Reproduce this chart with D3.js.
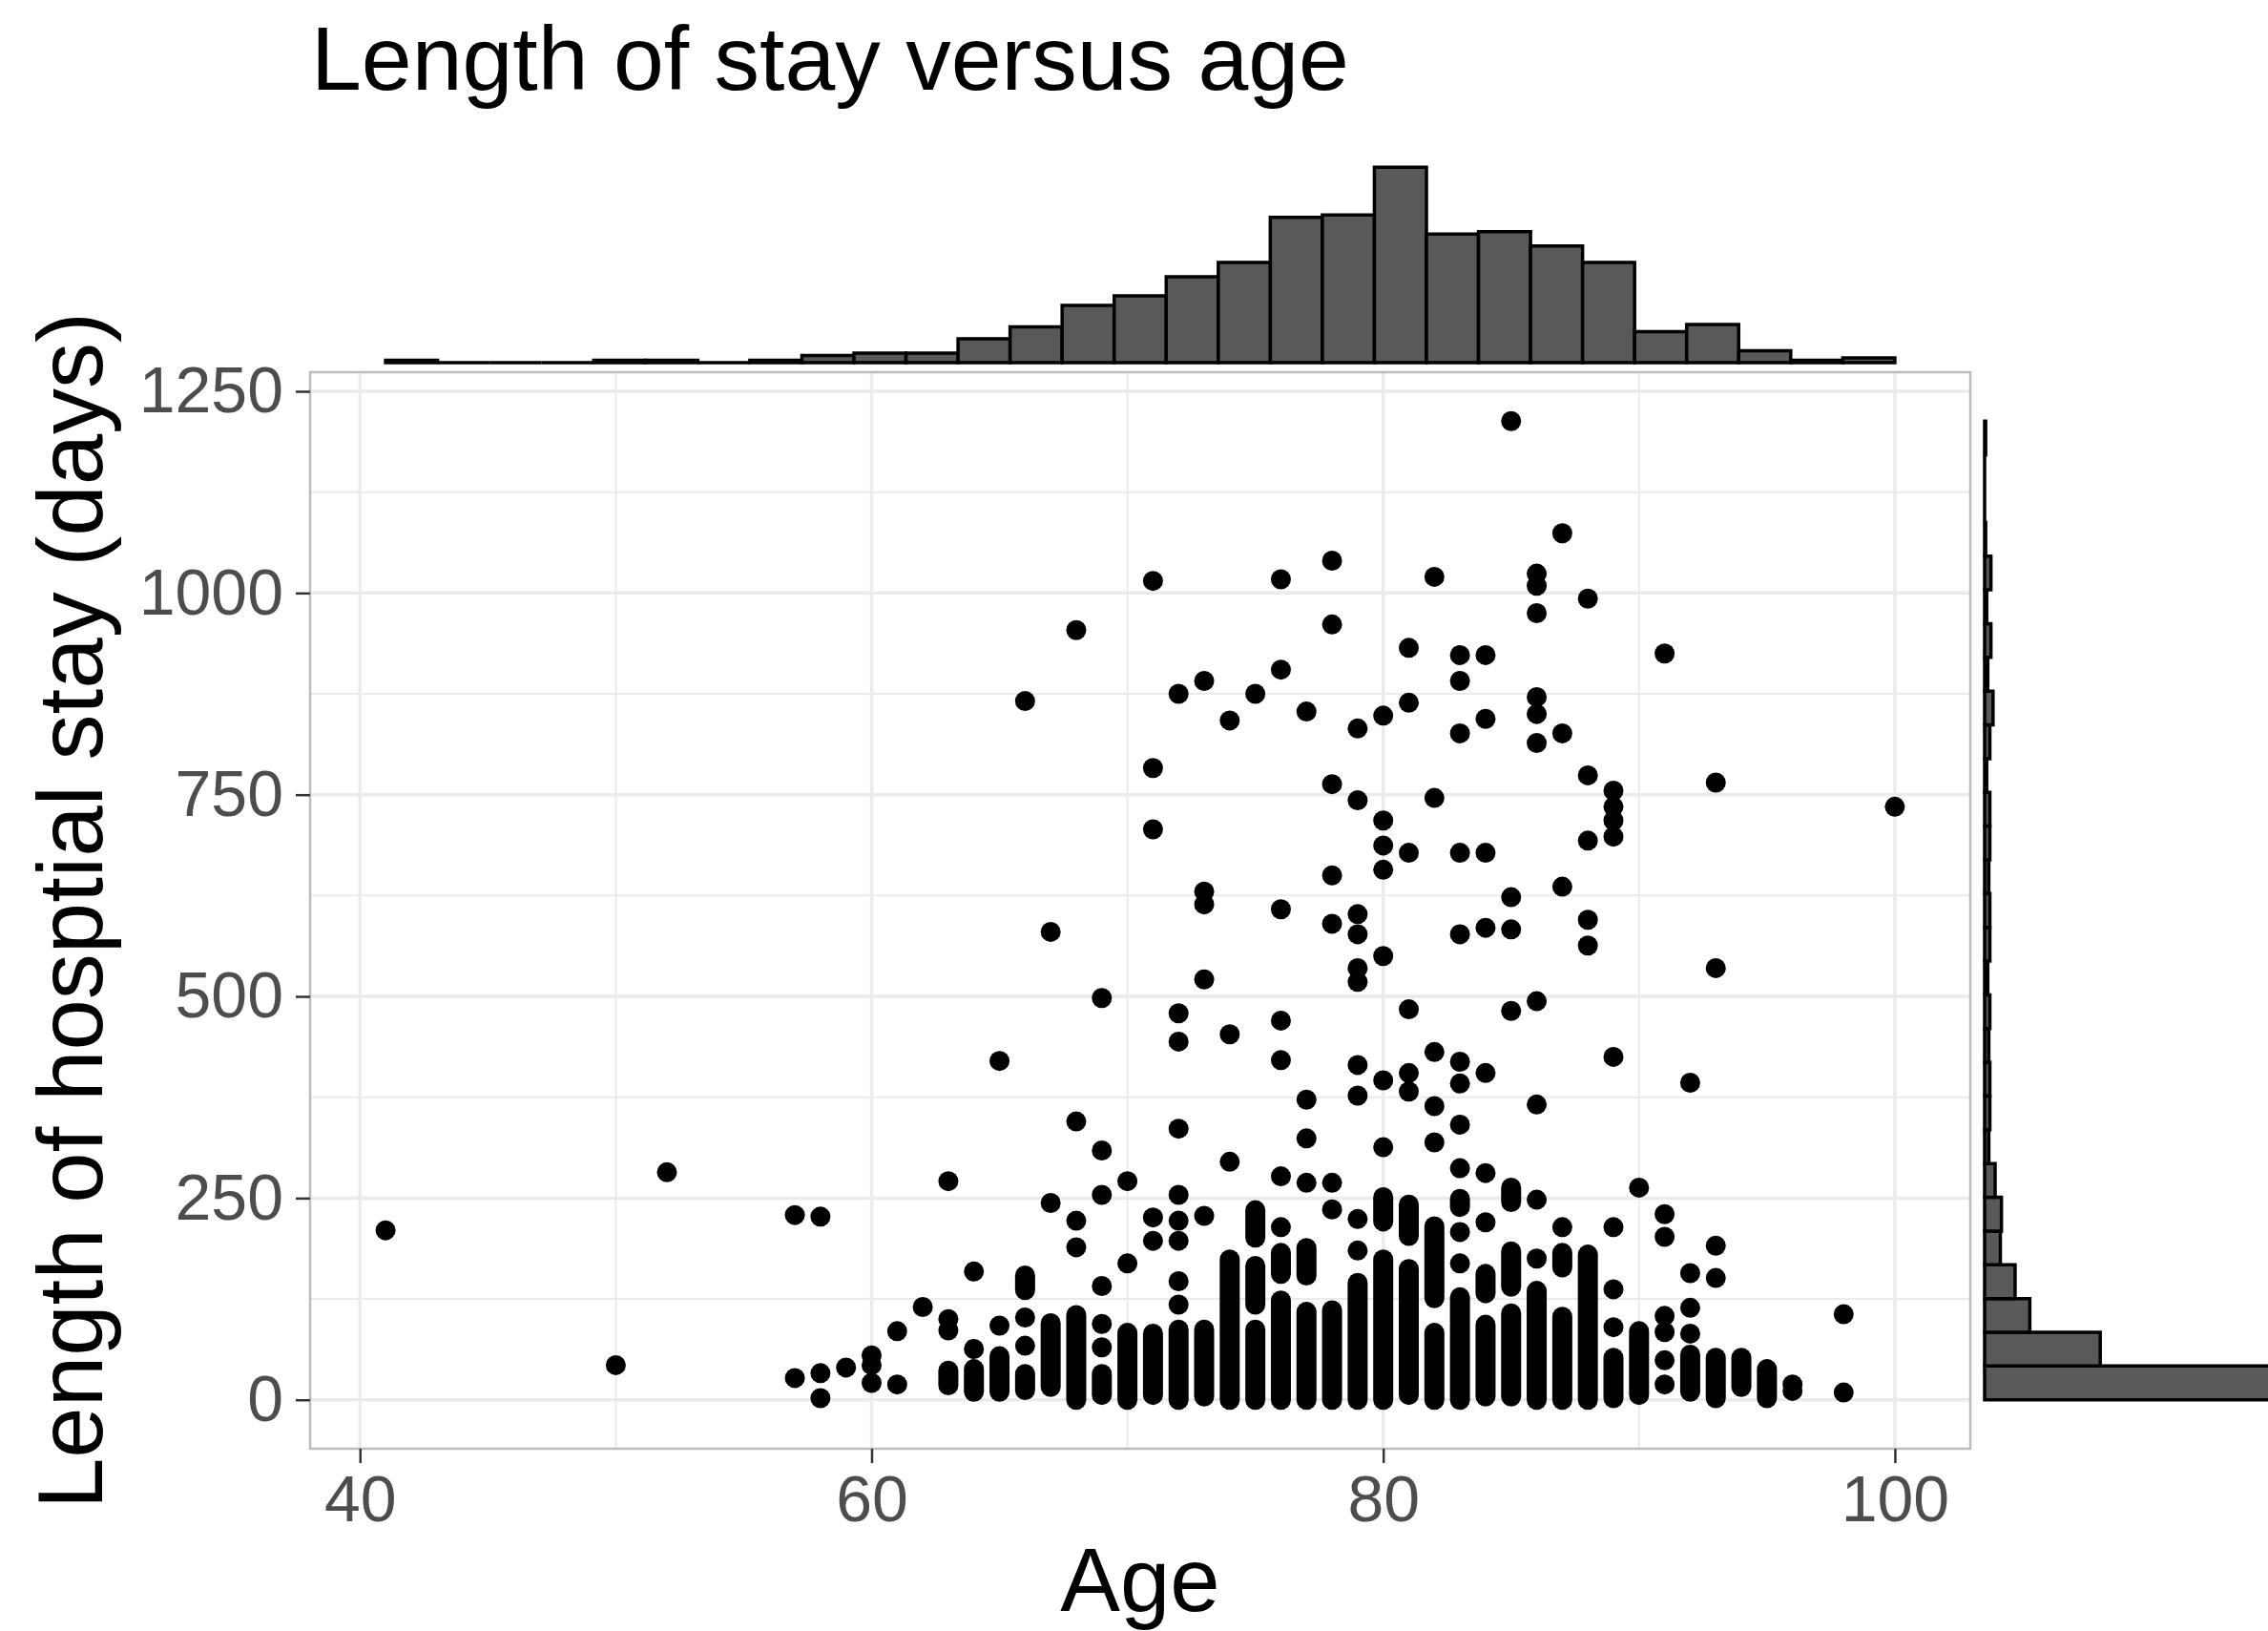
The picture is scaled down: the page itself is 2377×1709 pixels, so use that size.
<!DOCTYPE html>
<html>
<head>
<meta charset="utf-8">
<script src="https://cdn.jsdelivr.net/npm/d3@7"></script>
<style>
  body { margin: 0; background: #fff; }
  svg { display: block; }
</style>
</head>
<body>
<svg id="chart" width="2377" height="1709"></svg>
<script>
const chartTitle = 'Length of stay versus age'
const xTitle = 'Age'
const yTitle = 'Length of hosptial stay (days)'

const xMajor = [40, 60, 80, 100]
const xMinor = [50, 70, 90]
const yMajor = [0, 250, 500, 750, 1000, 1250]
const yMinor = [125, 375, 625, 875, 1125]

// single patients: [age, days]
const points = [
  [41, 210], [50, 43], [52, 282],
  [57, 229], [57, 27], [58, 227], [58, 33], [58, 2], [59, 40],
  [60, 55], [60, 43], [60, 21], [61, 85], [61, 19], [62, 115],
  [63, 271], [63, 100], [63, 86], [64, 159], [64, 63], [65, 420], [65, 92],
  [66, 866], [66, 102], [66, 67], [67, 580], [67, 244],
  [68, 954], [68, 345], [68, 222], [68, 189],
  [69, 498], [69, 309], [69, 254], [69, 141], [69, 94], [69, 65],
  [70, 271], [70, 169],
  [71, 1015], [71, 783], [71, 707], [71, 226], [71, 197],
  [72, 875], [72, 479], [72, 444], [72, 336], [72, 254], [72, 222], [72, 197], [72, 147], [72, 118],
  [73, 891], [73, 630], [73, 614], [73, 521], [73, 228],
  [74, 842], [74, 453], [74, 295], [75, 875],
  [76, 1017], [76, 905], [76, 608], [76, 470], [76, 421], [76, 277], [76, 214],
  [77, 853], [77, 372], [77, 324], [77, 269],
  [78, 1040], [78, 961], [78, 763], [78, 650], [78, 590], [78, 269], [78, 236],
  [79, 832], [79, 743], [79, 602], [79, 577], [79, 535], [79, 518], [79, 415], [79, 377], [79, 224], [79, 185],
  [80, 848], [80, 718], [80, 687], [80, 657], [80, 550], [80, 396], [80, 313],
  [81, 932], [81, 864], [81, 678], [81, 484], [81, 405], [81, 382],
  [82, 1020], [82, 746], [82, 431], [82, 364], [82, 319],
  [83, 923], [83, 891], [83, 826], [83, 678], [83, 577], [83, 419], [83, 392], [83, 341], [83, 287], [83, 208], [83, 169],
  [84, 923], [84, 844], [84, 678], [84, 585], [84, 405], [84, 281], [84, 220],
  [85, 1213], [85, 623], [85, 583], [85, 482],
  [86, 1024], [86, 1009], [86, 975], [86, 871], [86, 850], [86, 814], [86, 494], [86, 366], [86, 248], [86, 175],
  [87, 1074], [87, 826], [87, 636], [87, 214],
  [88, 993], [88, 774], [88, 693], [88, 595], [88, 563],
  [89, 755], [89, 735], [89, 718], [89, 698], [89, 425], [89, 214], [89, 137], [89, 90],
  [90, 263],
  [91, 925], [91, 230], [91, 202], [91, 104], [91, 84], [91, 49], [91, 19],
  [92, 393], [92, 157], [92, 114], [92, 82],
  [93, 765], [93, 535], [93, 191], [93, 151],
  [96, 19], [96, 11], [98, 106], [98, 9], [100, 735]
]

// runs of overlapping patients at one age: [age, from days, to days]
const stacks = [
  [63, 18, 36], [64, 10, 38], [65, 10, 54], [66, 136, 154], [66, 12, 32], [67, 16, 95],
  [68, 0, 105], [69, 6, 32], [70, 0, 83], [71, 6, 82], [72, 0, 87], [73, 4, 87], [74, 0, 174],
  [75, 201, 235], [75, 118, 166], [75, 0, 87], [76, 156, 182], [76, 0, 123],
  [77, 154, 188], [77, 0, 109], [78, 0, 111], [79, 0, 145], [80, 221, 251], [80, 0, 174],
  [81, 203, 242], [81, 6, 162], [82, 126, 215], [82, 0, 83], [83, 239, 249], [83, 0, 127],
  [84, 132, 156], [84, 4, 93], [85, 245, 263], [85, 140, 184], [85, 4, 107], [86, 0, 135],
  [87, 164, 182], [87, 0, 103], [88, 0, 180], [89, 2, 52], [90, 6, 85], [92, 10, 56],
  [93, 2, 52], [94, 16, 52], [95, 2, 38]
]

// marginal histograms, bins run from min to max of each variable
const ageCounts = [1, 0, 0, 0, 1, 1, 0, 1, 3, 4, 4, 10, 15, 24, 28, 36, 42, 61, 62, 82, 54, 55, 49, 42, 13, 16, 5, 1, 2]
const stayCounts = [300, 110, 43, 29, 15, 16, 10, 4, 5, 5, 4, 5, 3, 5, 5, 4, 5, 5, 2, 5, 8, 3, 6, 2, 6, 1, 0, 0, 1]

const font = '"Liberation Sans", Arial, Helvetica, sans-serif'
const panel = { left: 325, right: 2065, top: 390, bottom: 1518 }
const dotR = 10.5

const svg = d3.select('#chart').attr('font-family', font)
svg.append('rect').attr('width', 2377).attr('height', 1709).attr('fill', '#fff')

const ageExt = d3.extent(points.map(d => d[0]).concat(stacks.map(d => d[0])))
const stayExt = d3.extent(points.map(d => d[1]).concat(stacks.map(d => d[1]), stacks.map(d => d[2])))
const expand = ext => {
  const p = (ext[1] - ext[0]) * 0.05
  return [ext[0] - p, ext[1] + p]
}

const x = d3.scaleLinear().domain(expand(ageExt)).range([panel.left, panel.right])
const y = d3.scaleLinear().domain(expand(stayExt)).range([panel.bottom, panel.top])

// grid
const grid = svg.append('g').attr('stroke', '#ebebeb')
const vline = (sel, w) => sel.attr('x1', d => x(d)).attr('x2', d => x(d))
  .attr('y1', panel.top).attr('y2', panel.bottom).attr('stroke-width', w)
const hline = (sel, w) => sel.attr('y1', d => y(d)).attr('y2', d => y(d))
  .attr('x1', panel.left).attr('x2', panel.right).attr('stroke-width', w)
grid.selectAll('line.xmin').data(xMinor).join('line').attr('class', 'xmin').call(vline, 2)
grid.selectAll('line.ymin').data(yMinor).join('line').attr('class', 'ymin').call(hline, 2)
grid.selectAll('line.xmaj').data(xMajor).join('line').attr('class', 'xmaj').call(vline, 3.5)
grid.selectAll('line.ymaj').data(yMajor).join('line').attr('class', 'ymaj').call(hline, 3.5)

// scatter
svg.append('g').selectAll('line').data(stacks).join('line')
  .attr('x1', d => x(d[0])).attr('x2', d => x(d[0]))
  .attr('y1', d => y(d[1])).attr('y2', d => y(d[2]))
  .attr('stroke', '#000').attr('stroke-width', dotR * 2).attr('stroke-linecap', 'round')
svg.append('g').selectAll('circle').data(points).join('circle')
  .attr('cx', d => x(d[0])).attr('cy', d => y(d[1])).attr('r', dotR).attr('fill', '#000')

svg.append('rect')
  .attr('x', panel.left).attr('y', panel.top)
  .attr('width', panel.right - panel.left).attr('height', panel.bottom - panel.top)
  .attr('fill', 'none').attr('stroke', '#bdbdbd').attr('stroke-width', 2.5)

// axes
const styleAxis = g => {
  g.attr('font-family', font)
  g.select('.domain').remove()
  g.selectAll('line').attr('stroke', '#333').attr('stroke-width', 2.5)
  g.selectAll('text').attr('fill', '#4d4d4d').attr('font-size', 68)
}
svg.append('g').attr('transform', `translate(0,${panel.bottom})`)
  .call(d3.axisBottom(x).tickValues(xMajor).tickFormat(d3.format('d')).tickSize(15).tickPadding(13))
  .call(styleAxis)
svg.append('g').attr('transform', `translate(${panel.left},0)`)
  .call(d3.axisLeft(y).tickValues(yMajor).tickFormat(d3.format('d')).tickSize(15).tickPadding(13))
  .call(styleAxis)

// top marginal histogram
const ageBinW = (ageExt[1] - ageExt[0]) / ageCounts.length
const topY = d3.scaleLinear().domain([0, d3.max(ageCounts) * 1.05]).range([380, 165])
svg.append('g').selectAll('path').data(ageCounts).join('path')
  .attr('d', (c, i) => {
    const x0 = x(ageExt[0] + i * ageBinW), x1 = x(ageExt[0] + (i + 1) * ageBinW)
    return `M${x0},${topY(0)}V${topY(c)}H${x1}V${topY(0)}Z`
  })
  .attr('fill', '#595959').attr('stroke', '#000').attr('stroke-width', 3.5)

// right marginal histogram
const stayBinW = (stayExt[1] - stayExt[0]) / stayCounts.length
const sideX = d3.scaleLinear().domain([0, d3.max(stayCounts) * 1.05]).range([2080, 2427])
svg.append('g').selectAll('path').data(stayCounts).join('path')
  .attr('d', (c, i) => {
    const y0 = y(stayExt[0] + i * stayBinW), y1 = y(stayExt[0] + (i + 1) * stayBinW)
    return `M${sideX(0)},${y0}H${sideX(c)}V${y1}H${sideX(0)}Z`
  })
  .attr('fill', '#595959').attr('stroke', '#000').attr('stroke-width', 3.5)

// titles
svg.append('text').attr('x', 326).attr('y', 94)
  .attr('font-size', 95).attr('fill', '#000').text(chartTitle)
svg.append('text').attr('x', (panel.left + panel.right) / 2).attr('y', 1688)
  .attr('text-anchor', 'middle').attr('font-size', 94).attr('fill', '#000').text(xTitle)
svg.append('text')
  .attr('transform', `translate(107,${(panel.top + panel.bottom) / 2}) rotate(-90)`)
  .attr('text-anchor', 'middle').attr('font-size', 96).attr('fill', '#000').text(yTitle)
</script>
</body>
</html>
